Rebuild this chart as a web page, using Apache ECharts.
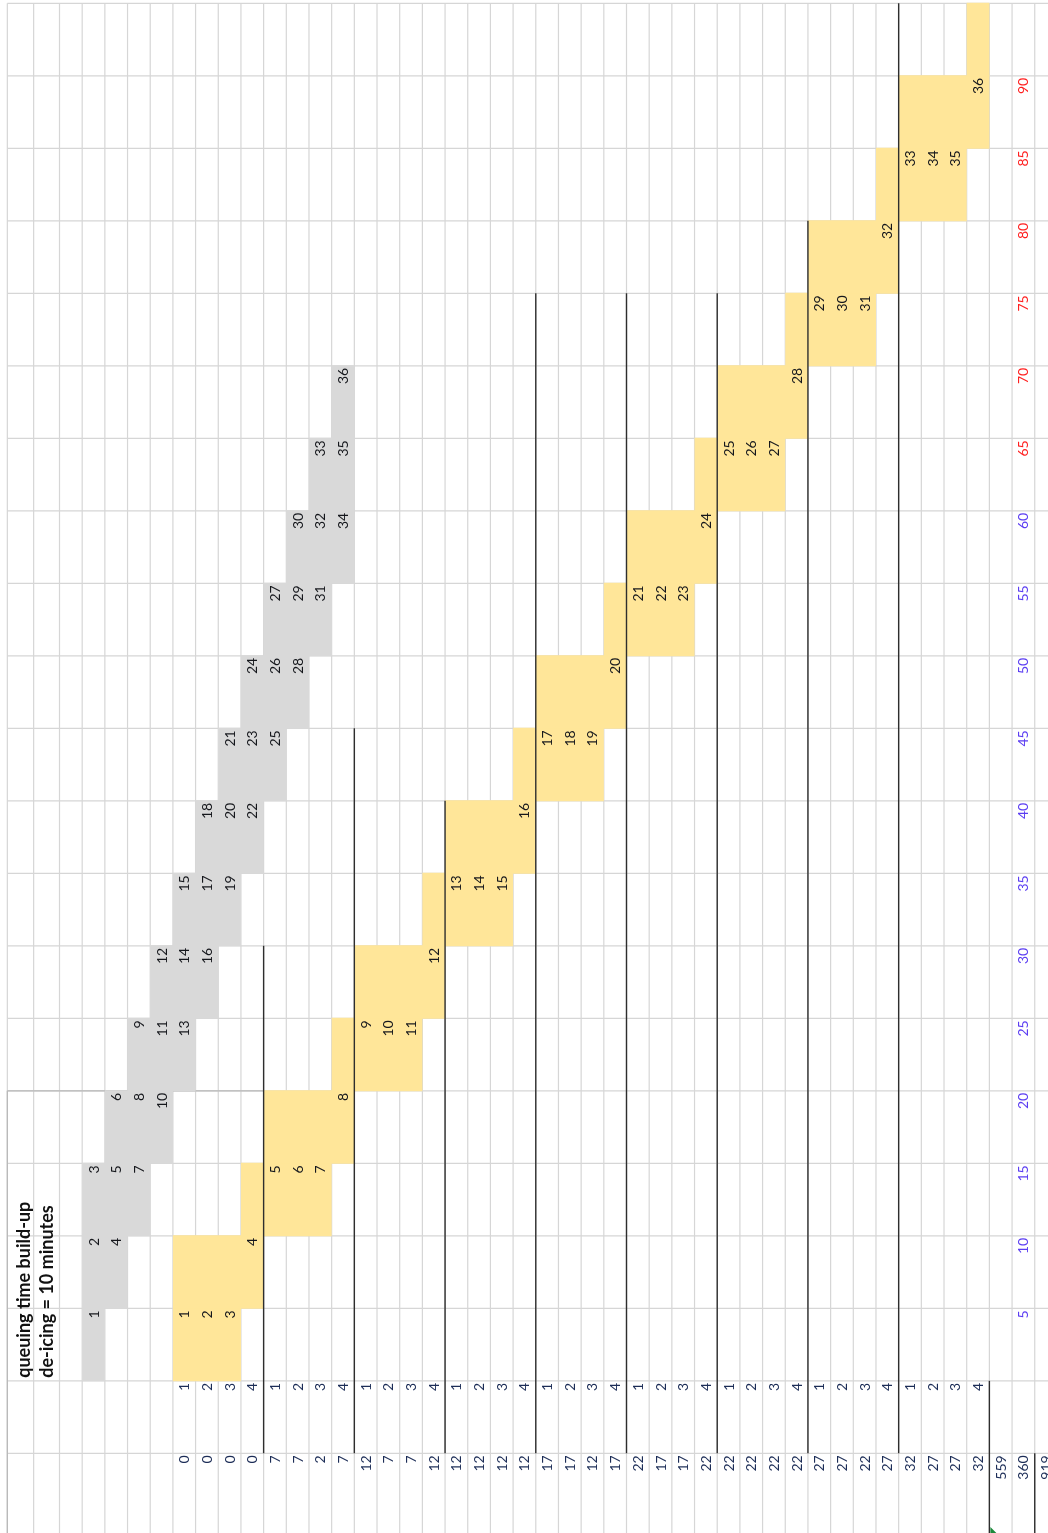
<!DOCTYPE html>
<html>
<head>
<meta charset="utf-8">
<title>queuing time build-up</title>
<script src="https://cdn.jsdelivr.net/npm/echarts@6/dist/echarts.min.js"></script>
<style>
  html, body { margin: 0; padding: 0; background: #fff; }
  #chart { width: 1048px; height: 1533px; }
</style>
</head>
<body>
<div id="chart"></div>
<script>
// ---- data (sheet is shown turned a quarter turn) ----
// minute marks, rows 1..18 (row 0 is the 95 minute band, no label)
var minuteLabels = [90, 85, 80, 75, 70, 65, 60, 55, 50, 45, 40, 35, 30, 25, 20, 15, 10, 5];

// queue build-up (grey): row, first column, aircraft numbers
var queueRow  = [18, 17, 16, 15, 14, 13, 12, 11, 10, 9, 8, 7, 6, 5];
var queueCol  = [1, 1, 1, 2, 3, 4, 5, 6, 7, 8, 9, 10, 11, 12];
var queueNums = [[1], [2, 4], [3, 5, 7], [6, 8, 10], [9, 11, 13], [12, 14, 16], [15, 17, 19],
                 [18, 20, 22], [21, 23, 25], [24, 26, 28], [27, 29, 31], [30, 32, 34], [33, 35], [36]];

// de-icing (yellow): row, first and last column of the band, numbers at the end of the band
var deiceRow  = [18, 17, 16, 15, 14, 13, 12, 11, 10, 9, 8, 7, 6, 5, 4, 3, 2, 1, 0];
var deiceFrom = [5, 5, 8, 9, 12, 13, 16, 17, 20, 21, 24, 25, 28, 29, 32, 33, 36, 37, 40];
var deiceTo   = [7, 8, 11, 12, 15, 16, 19, 20, 23, 24, 27, 28, 31, 32, 35, 36, 39, 40, 40];
var deiceNums = [[1, 2, 3], [4], [5, 6, 7], [8], [9, 10, 11], [12], [13, 14, 15], [16], [17, 18, 19], [20],
                 [21, 22, 23], [24], [25, 26, 27], [28], [29, 30, 31], [32], [33, 34, 35], [36], []];

// de-icing pad numbers and waiting minutes, columns 5..40
var slotLabels = [1, 2, 3, 4, 1, 2, 3, 4, 1, 2, 3, 4, 1, 2, 3, 4, 1, 2, 3, 4, 1, 2, 3, 4,
                  1, 2, 3, 4, 1, 2, 3, 4, 1, 2, 3, 4];
var waitValues = [0, 0, 0, 0, 7, 7, 2, 7, 12, 7, 7, 12, 12, 12, 12, 12, 17, 17, 12, 17,
                  22, 17, 17, 22, 22, 22, 22, 22, 27, 27, 22, 27, 32, 27, 27, 32];
var totals = [559, 360, 919];

// black separators: column, from row, to row
var sepCol  = [9, 13, 17, 21, 25, 29, 33, 37, 41, 43];
var sepFrom = [13, 10, 11, 4, 4, 4, 3, 0, 19, 20];
var sepTo   = [20, 20, 20, 20, 20, 20, 20, 20, 22, 22];

var titleLines = ['queuing time build-up', 'de-icing = 10 minutes'];

// ---- layout ----
var colA = -2.3, colB = -1.14;     // two wider columns on the left
var firstCol = 5, labelCol = 42, lastCol = 44, lastRow = 20;
var FONT = '14px Lato';
var INK = '#15171c';

var chart = echarts.init(document.getElementById('chart'));

// grid lines
var gridLines = [];
[colA, colB].forEach(function (x) { gridLines.push([x, 0, x, 22]); });
for (var c = 0; c <= lastCol; c++) gridLines.push([c, 0, c, 22]);
for (var r = 0; r <= lastRow; r++) gridLines.push([colA, r, lastCol + 1, r]);

var freezeLines = [[colA, 15, 9, 15], [colA, 15, colA, 22]];

var sepLines = sepCol.map(function (c, i) { return [c, sepFrom[i], c, sepTo[i]]; });

// filled bands, one per row: [from col, row, to col]
var greyBands = queueRow.map(function (r, i) {
  return [queueCol[i], r, queueCol[i] + queueNums[i].length - 1];
});
var yellowBands = deiceRow.map(function (r, i) { return [deiceFrom[i], r, deiceTo[i]]; });

// texts
var texts = [];
minuteLabels.forEach(function (m, i) {
  texts.push({ c: labelCol, r: i + 1, t: String(m), color: m > 60 ? '#ff1f1f' : '#5b3df2' });
});
queueRow.forEach(function (r, i) {
  queueNums[i].forEach(function (n, k) { texts.push({ c: queueCol[i] + k, r: r, t: String(n), color: INK }); });
});
deiceRow.forEach(function (r, i) {
  var nums = deiceNums[i];
  nums.forEach(function (n, k) {
    texts.push({ c: deiceTo[i] - nums.length + 1 + k, r: r, t: String(n), color: INK });
  });
});
slotLabels.forEach(function (s, i) { texts.push({ c: firstCol + i, r: 19, t: String(s), color: '#1c2d57' }); });
waitValues.concat(totals).forEach(function (v, i) {
  texts.push({ c: firstCol + i, r: 20, t: String(v), color: '#1c2d57' });
});

function lineSeries(data, color, width) {
  return {
    type: 'custom', silent: true, animation: false, clip: false,
    dimensions: ['x1', 'y1', 'x2', 'y2'], encode: { x: [0, 2], y: [1, 3] },
    data: data,
    renderItem: function (params, api) {
      var a = api.coord([api.value(0), api.value(1)]);
      var b = api.coord([api.value(2), api.value(3)]);
      return { type: 'line', shape: { x1: a[0], y1: a[1], x2: b[0], y2: b[1] },
               style: { stroke: color, lineWidth: width } };
    }
  };
}

function fillSeries(data, color) {
  return {
    type: 'custom', silent: true, animation: false,
    dimensions: ['from', 'row', 'to'], encode: { x: [0, 2], y: 1 }, data: data,
    renderItem: function (params, api) {
      var a = api.coord([api.value(0), api.value(1)]);
      var b = api.coord([api.value(2) + 1, api.value(1) + 1]);
      // small overlap so stacked bands show no seam
      return { type: 'rect', shape: { x: a[0], y: a[1] - 0.5, width: b[0] - a[0], height: b[1] - a[1] + 1 },
               style: { fill: color } };
    }
  };
}

var option = {
  backgroundColor: '#ffffff',
  animation: false,
  grid: { left: 0, right: 0, top: 0, bottom: 0 },
  xAxis: { type: 'value', min: -59.5 / 22.68, max: (1048 - 59.5) / 22.68, show: false },
  yAxis: { type: 'value', inverse: true, min: -3.3 / 72.5, max: (1533 - 3.3) / 72.5, show: false },
  series: [
    lineSeries(gridLines, '#d6d6d6', 1.2),
    lineSeries(freezeLines, '#b9b9b9', 1.3),
    fillSeries(greyBands, '#d9d9d9'),
    fillSeries(yellowBands, '#ffe699'),
    lineSeries(sepLines, '#2e2e2e', 1.4),
    {
      // small green error marker in the totals cell
      type: 'custom', silent: true, animation: false, clip: false,
      encode: { x: 0, y: 1 }, data: [[41, 20]],
      renderItem: function (params, api) {
        var p = api.coord([api.value(0), api.value(1)]);
        var h = api.getHeight();
        return { type: 'polygon', shape: { points: [[p[0] + 1, h + 1], [p[0] + 1, h - 6], [p[0] + 8, h + 1]] },
                 style: { fill: '#1d8a3c' } };
      }
    },
    {
      type: 'custom', silent: true, animation: false, clip: false,
      encode: { x: 0, y: 1 },
      data: texts.map(function (d) { return [d.c, d.r]; }),
      renderItem: function (params, api) {
        var d = texts[params.dataIndex];
        var p = api.coord([api.value(0) + 0.5, api.value(1)]);
        return { type: 'text', x: p[0] + 0.5, y: p[1] + 2, rotation: Math.PI / 2,
                 style: { text: d.t, fill: d.color, font: FONT, align: 'right', verticalAlign: 'middle' } };
      }
    },
    {
      type: 'custom', silent: true, animation: false, clip: false,
      encode: { x: 0, y: 1 },
      data: [[(colA + colB) / 2, 19], [(colB + 0) / 2, 19]],
      renderItem: function (params, api) {
        var p = api.coord([api.value(0), api.value(1)]);
        var shift = params.dataIndex === 0 ? 4 : 1;
        return { type: 'text', x: p[0] + shift, y: p[1] - 3, rotation: Math.PI / 2,
                 style: { text: titleLines[params.dataIndex], fill: '#111', font: 'bold 18px Lato',
                          align: 'left', verticalAlign: 'middle' } };
      }
    }
  ]
};

chart.setOption(option);
</script>
</body>
</html>
